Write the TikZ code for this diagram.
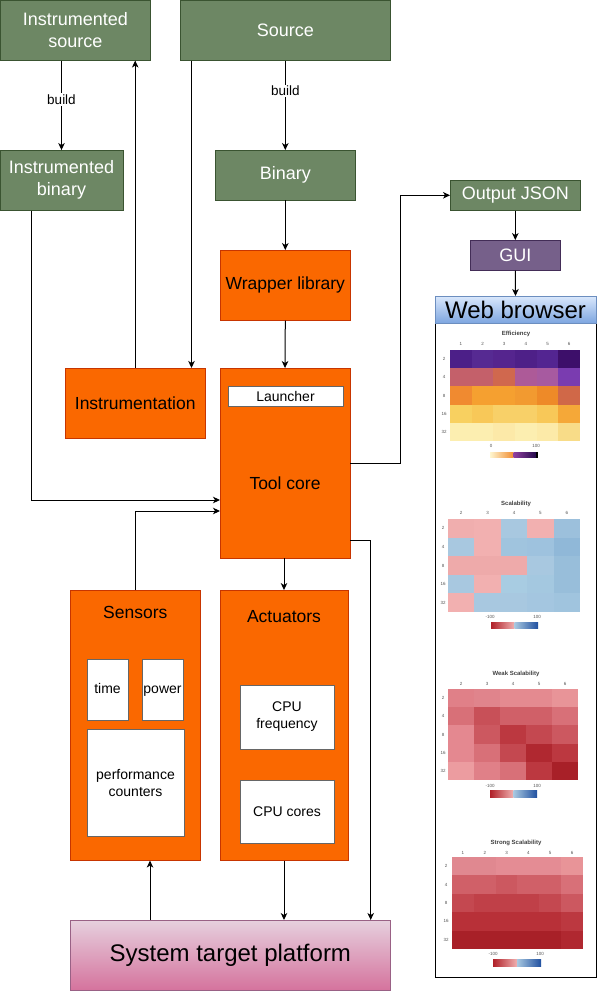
\documentclass[tikz,border=0pt]{standalone}
\usepackage{fontspec}
\setmainfont{Liberation Sans}
\usetikzlibrary{arrows.meta}
\definecolor{gfill}{HTML}{6D8764}
\definecolor{gline}{HTML}{3A5431}
\definecolor{ofill}{HTML}{FA6800}
\definecolor{oline}{HTML}{C73500}
\definecolor{pfill}{HTML}{76608A}
\definecolor{pline}{HTML}{432D57}
\definecolor{btop}{HTML}{DAE8FC}
\definecolor{bbot}{HTML}{7EA6E0}
\definecolor{bline}{HTML}{6C8EBF}
\definecolor{ktop}{HTML}{E6D0DE}
\definecolor{kbot}{HTML}{D5739D}
\definecolor{kline}{HTML}{996185}
\definecolor{hmtext}{HTML}{555555}
\newcommand\hmrow[5]{\foreach \c [count=\i from 0] in {#5}{\definecolor{hmc}{HTML}{\c}\fill[hmc] ({#1+\i*#3},{#2}) rectangle ++(#3,#4);}}
\begin{document}
\begin{tikzpicture}[x=1pt,y=-1pt,
  box/.style={draw, line width=1pt, inner sep=0pt, outer sep=0pt, align=center},
  gbox/.style={box, fill=gfill, draw=gline, text=white, font=\fontsize{18}{22}\selectfont},
  obox/.style={box, fill=ofill, draw=oline, text=black, font=\fontsize{17.5}{21.5}\selectfont},
  wbox/.style={box, fill=white, draw=black!60, line width=1pt, text=black, font=\fontsize{14}{17}\selectfont},
  conn/.style={draw=black, line width=1pt, -{Stealth[length=7pt,width=6.5pt,inset=2pt]}},
  lbl/.style={fill=white, inner sep=1.5pt, font=\fontsize{13.5}{15}\selectfont},
  hml/.style={text=hmtext, font=\fontsize{4.5}{5}\selectfont, inner sep=0pt},
  hmt/.style={text=black!75, font=\fontsize{6}{7}\selectfont\bfseries, inner sep=0pt}]
\useasboundingbox (0,0) rectangle (601,992);

% green boxes
\node[gbox, minimum width=150pt, minimum height=60.5pt] (isrc) at (75.3,30.3) {Instrumented\\source};
\node[gbox, minimum width=210.5pt, minimum height=60.5pt] (src) at (285.3,30.3) {Source};
\node[gbox, minimum width=123pt, minimum height=60.5pt] (ibin) at (61.5,180.3) {Instrumented\\binary};
\node[gbox, minimum width=140.5pt, minimum height=50.3pt] (bin) at (285.3,175.2) {Binary};
\node[gbox, minimum width=130.5pt, minimum height=30.5pt] (out) at (515.3,195.3) {Output JSON};
\node[box, fill=pfill, draw=pline, text=white, font=\fontsize{18}{22}\selectfont, minimum width=90.5pt, minimum height=30.5pt] (gui) at (515.3,255.3) {GUI};

% orange boxes
\node[obox, minimum width=130.5pt, minimum height=70.5pt] (wrap) at (285.3,285.3) {Wrapper library};
\node[obox, minimum width=140.3pt, minimum height=70pt] (instr) at (135.2,403) {Instrumentation};
\node[obox, minimum width=130pt, minimum height=190.3pt] (core) at (285,463.2) {};
\node[font=\fontsize{17.5}{21.5}\selectfont, inner sep=0pt] (coretxt) at (285,483) {Tool core};
\node[wbox, minimum width=115pt, minimum height=20pt] (launch) at (285.5,396) {Launcher};

\node[obox, minimum width=130.5pt, minimum height=270.5pt] (sens) at (135.3,725.3) {};
\node[font=\fontsize{17.5}{21.5}\selectfont, inner sep=0pt] (senstxt) at (135.3,612) {Sensors};
\node[wbox, minimum width=41pt, minimum height=61pt, text height=10pt, text depth=3pt] (time) at (107.5,689.5) {time};
\node[wbox, minimum width=41pt, minimum height=61pt, text height=10pt, text depth=3pt] (power) at (162.5,689.5) {power};
\node[wbox, minimum width=97pt, minimum height=107pt] (perf) at (135.5,782.5) {performance\\counters};

\node[obox, minimum width=128pt, minimum height=270.5pt] (act) at (284,725.3) {};
\node[font=\fontsize{17.5}{21.5}\selectfont, inner sep=0pt] (acttxt) at (284,617) {Actuators};
\node[wbox, minimum width=94pt, minimum height=64pt] (cpuf) at (287,717) {CPU\\frequency};
\node[wbox, minimum width=94pt, minimum height=63pt] (cpuc) at (287,811.5) {CPU cores};

% system
\node[box, draw=kline, top color=ktop, bottom color=kbot, font=\fontsize{24}{28}\selectfont, minimum width=320.5pt, minimum height=70pt] (sys) at (230.3,955) {System target platform};

% web browser
\node[box, draw=black, fill=white, minimum width=161pt, minimum height=681pt] (webpanel) at (515.5,636.5) {};
\node[box, draw=bline, top color=btop, bottom color=bbot, font=\fontsize{24}{28}\selectfont, minimum width=161pt, minimum height=27pt] (web) at (515.5,309.5) {Web browser};

% ---------- heatmaps ----------
% Efficiency
\node[hmt] (t1) at (516,334) {Efficiency};
\hmrow{450}{350}{21.67}{18.2}{4C1F88,562A92,55258E,4E2088,532591,3D0F6A}
\hmrow{450}{368.2}{21.67}{18.2}{C4606A,C4606A,D0684E,AD5A98,A75AA0,7A3CB0}
\hmrow{450}{386.4}{21.67}{18.2}{F08A30,F5A030,F5A030,F29A30,EE8A28,D06848}
\hmrow{450}{404.6}{21.67}{18.2}{F8D060,F8C858,F8D068,F8D068,F8C858,F5A838}
\hmrow{450}{422.8}{21.67}{18.2}{FCEEB0,FCEEB0,FCE9A8,FCEEB0,FCEAA8,F8DC88}
\foreach \k [count=\i from 0] in {1,2,3,4,5,6} \node[hml] at ({450+21.67*(\i+0.5)},344) {\k};
\foreach \k [count=\i from 0] in {2,4,8,16,32} \node[hml] at (444,{350+18.2*(\i+0.5)}) {\k};
\node[hml] at (491,446) {0};
\node[hml] at (536,446) {100};
\shade[left color={rgb,255:red,255;green,246;blue,208}, right color={rgb,255:red,240;green,140;blue,48}] (490,452) rectangle (513.5,457);
\shade[left color={rgb,255:red,144;green,64;blue,160}, right color={rgb,255:red,32;green,8;blue,72}] (513.5,452) rectangle (537,457);
\fill[black] (536,451.5) rectangle (537.5,457.5);

% Scalability
\node[hmt] (t2) at (516,504) {Scalability};
\hmrow{448}{519}{26.4}{18.6}{F0AEAE,F2B0B0,A8C8E0,F2B0B0,9CC0DC}
\hmrow{448}{537.6}{26.4}{18.6}{A8C8E0,F2B0B0,A0C4DE,9EC2DE,90B8D8}
\hmrow{448}{556.2}{26.4}{18.6}{EEAAAA,EEAAAA,EEAAAA,A8C8E0,98BEDA}
\hmrow{448}{574.8}{26.4}{18.6}{A8C8E0,F2B0B0,A8CCE2,A4C8E0,98BEDA}
\hmrow{448}{593.4}{26.4}{18.6}{F2B0B0,A8C8E0,A8C8E0,A4C6E0,A0C4DE}
\foreach \k [count=\i from 0] in {2,3,4,5,6} \node[hml] at ({448+26.4*(\i+0.5)},513) {\k};
\foreach \k [count=\i from 0] in {2,4,8,16,32} \node[hml] at (443,{519+18.6*(\i+0.5)}) {\k};
\node[hml] at (490,617) {-100};
\node[hml] at (537,617) {100};
\shade[left color={rgb,255:red,176;green,32;blue,40}, right color={rgb,255:red,240;green,176;blue,176}] (491,622) rectangle (514.5,628);
\shade[left color={rgb,255:red,168;green,200;blue,224}, right color={rgb,255:red,32;green,80;blue,160}] (514.5,622) rectangle (538,628);

% Weak scalability
\node[hmt] (t3) at (516,674) {Weak Scalability};
\hmrow{448}{689}{26}{18.2}{E08088,E0848C,E48A90,E48A90,E89498}
\hmrow{448}{707.2}{26}{18.2}{D87078,C85058,D06068,D06068,D87078}
\hmrow{448}{725.4}{26}{18.2}{E48890,CC5860,BC3840,C44850,CC5860}
\hmrow{448}{743.6}{26}{18.2}{E48890,D87078,C44850,B02830,BC3840}
\hmrow{448}{761.8}{26}{18.2}{EC9CA0,E08088,D87078,BC3840,A82028}
\foreach \k [count=\i from 0] in {2,3,4,5,6} \node[hml] at ({448+26*(\i+0.5)},684) {\k};
\foreach \k [count=\i from 0] in {2,4,8,16,32} \node[hml] at (443,{689+18.2*(\i+0.5)}) {\k};
\node[hml] at (490,786) {-100};
\node[hml] at (537,786) {100};
\shade[left color={rgb,255:red,176;green,32;blue,40}, right color={rgb,255:red,240;green,176;blue,176}] (490,790) rectangle (513.5,797);
\shade[left color={rgb,255:red,168;green,200;blue,224}, right color={rgb,255:red,32;green,80;blue,160}] (513.5,790) rectangle (537,797);

% Strong scalability
\node[hmt] (t4) at (516,843) {Strong Scalability};
\hmrow{452}{857}{21.83}{18.4}{E08890,E08890,E48C94,E48C94,E48C94,E89498}
\hmrow{452}{875.4}{21.83}{18.4}{D06068,D06068,CC5860,D06068,D06068,D87078}
\hmrow{452}{893.8}{21.83}{18.4}{C44850,C04048,C04048,C04048,C44850,CC5860}
\hmrow{452}{912.2}{21.83}{18.4}{B83038,B83038,B83038,B83038,B83038,BC3840}
\hmrow{452}{930.6}{21.83}{18.4}{A82028,A82028,A82028,A82028,A82028,B02830}
\foreach \k [count=\i from 0] in {1,2,3,4,5,6} \node[hml] at ({452+21.83*(\i+0.5)},853) {\k};
\foreach \k [count=\i from 0] in {2,4,8,16,32} \node[hml] at (446,{857+18.4*(\i+0.5)}) {\k};
\node[hml] at (493,954) {-100};
\node[hml] at (540,954) {100};
\shade[left color={rgb,255:red,176;green,32;blue,40}, right color={rgb,255:red,240;green,176;blue,176}] (493,959) rectangle (517,966);
\shade[left color={rgb,255:red,168;green,200;blue,224}, right color={rgb,255:red,32;green,80;blue,160}] (517,959) rectangle (541,966);

% ---------- connectors ----------
\coordinate (c1) at (191.5,0);
\coordinate (jA) at (31,500);
\coordinate (jB) at (135,511);
\coordinate (jC) at (400,463);
\coordinate (jD) at (370.7,540);
\coordinate (jE) at (150,0);

\draw[conn] (isrc.south -| ibin.north) -- node[lbl, pos=0.44] {build} (ibin.north);
\draw[conn] (src.south) -- node[lbl, pos=0.34] {build} (bin.north);
\draw[conn] (bin.south) -- (wrap.north);
\draw[conn] (wrap.south) -- (core.north);
\draw[conn] (instr.north) -- (instr.north |- isrc.south);
\draw[conn] (src.south -| c1) -- (instr.north -| c1);
\draw[conn] (ibin.south -| jA) |- (core.west |- jA);
\draw[conn] (sens.north -| jB) |- (core.west |- jB);
\draw[conn] (core.east |- jC) -- (jC) |- (out.west);
\draw[conn] (out.south) -- (gui.north);
\draw[conn] (gui.south) -- (web.north);
\draw[conn] (core.east |- jD) -- (jD) -- (jD |- sys.north);
\draw[conn] (core.south -| act.north) -- (act.north);
\draw[conn] (act.south) -- (act.south |- sys.north);
\draw[conn] (sys.north -| jE) -- (sens.south -| jE);
\end{tikzpicture}
\end{document}
